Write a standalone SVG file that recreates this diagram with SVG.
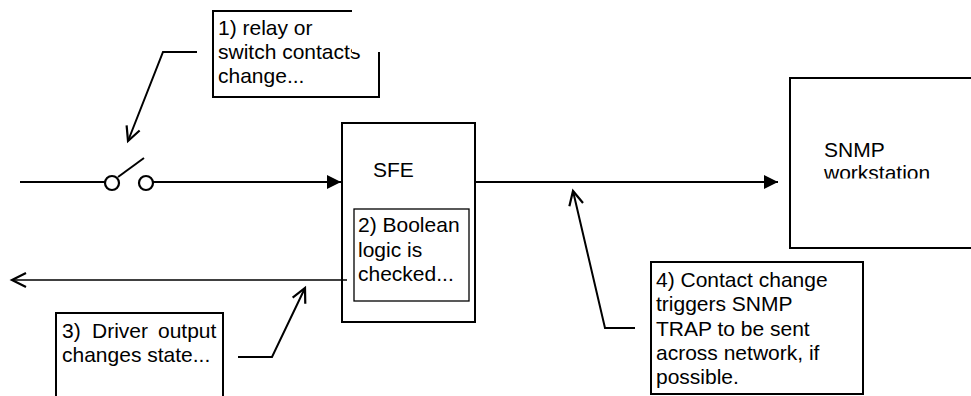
<svg xmlns="http://www.w3.org/2000/svg" width="971" height="396" viewBox="0 0 971 396">
<style>
  .box{fill:none;stroke:#000;stroke-width:2}
  .thin{fill:none;stroke:#000;stroke-width:1.3}
  .wire{fill:none;stroke:#000;stroke-width:2;stroke-linejoin:miter}
  .lbl{font-family:"Liberation Sans",Arial,sans-serif;font-size:21px;fill:#000}
</style>
<defs>
  <marker id="open" markerUnits="userSpaceOnUse" viewBox="-18 -10 20 20" markerWidth="20" markerHeight="20" refX="0" refY="0" orient="auto" overflow="visible">
    <path d="M-14,-7 L0,0 L-14,7" fill="none" stroke="#000" stroke-width="2.2" stroke-linejoin="miter"/>
  </marker>
  <marker id="solid" markerUnits="userSpaceOnUse" viewBox="-16 -9 18 18" markerWidth="18" markerHeight="18" refX="0" refY="0" orient="auto" overflow="visible">
    <path d="M-14,-7 L0,0 L-14,7 Z" fill="#000"/>
  </marker>
  <clipPath id="clip1"><polygon points="200,0 352,0 352,52 390,52 390,110 200,110"/></clipPath>
  <clipPath id="clipSnmp"><rect x="790" y="80" width="181" height="98.5"/></clipPath>
</defs>
<rect width="971" height="396" fill="#fff"/>

<g id="connectors">
  <line class="wire" x1="20" y1="182" x2="105" y2="182"/>
  <circle cx="112" cy="183" r="7" fill="#fff" stroke="#000" stroke-width="2.2"/>
  <circle cx="146" cy="183" r="7" fill="#fff" stroke="#000" stroke-width="2.2"/>
  <line class="wire" x1="118" y1="177" x2="144" y2="158"/>
  <line class="wire" x1="153" y1="182" x2="341" y2="182" marker-end="url(#solid)"/>
  <line class="wire" x1="475" y1="182" x2="778" y2="182" marker-end="url(#solid)"/>
  <line class="thin" x1="347" y1="280" x2="12" y2="280" stroke-width="1.5" marker-end="url(#open)"/>
  <polyline class="wire" points="197,52 163,52 128,141" marker-end="url(#open)"/>
  <polyline class="wire" points="238,357 272,357 305,288" marker-end="url(#open)"/>
  <polyline class="wire" points="635,328 605,328 573,191" marker-end="url(#open)"/>
</g>

<g id="note1">
  <path class="box" d="M352,11 H213 V97 H379 V52"/>
  <text class="lbl" clip-path="url(#clip1)">
    <tspan x="218" y="35">1) relay or</tspan>
    <tspan x="218" y="59">switch contacts</tspan>
    <tspan x="218" y="83">change...</tspan>
  </text>
</g>

<g id="sfe">
  <rect class="box" x="342" y="123" width="133" height="199"/>
  <text class="lbl" x="373" y="177">SFE</text>
</g>

<g id="note2">
  <rect class="thin" x="354" y="209" width="115" height="92"/>
  <text class="lbl">
    <tspan x="358" y="232">2) Boolean</tspan>
    <tspan x="358" y="257">logic is</tspan>
    <tspan x="358" y="281">checked...</tspan>
  </text>
</g>

<g id="note3">
  <rect class="box" x="56" y="313" width="167" height="100"/>
  <text class="lbl">
    <tspan x="62" y="338">3)</tspan><tspan x="92" y="338">Driver</tspan><tspan x="158" y="338">output</tspan>
    <tspan x="62" y="362">changes state...</tspan>
  </text>
</g>

<g id="snmp">
  <rect class="box" x="790" y="78" width="200" height="170"/>
  <text class="lbl" clip-path="url(#clipSnmp)">
    <tspan x="824" y="157">SNMP</tspan>
    <tspan x="824" y="180">workstation</tspan>
  </text>
</g>

<g id="note4">
  <rect class="box" x="651" y="262" width="212" height="132"/>
  <text class="lbl">
    <tspan x="656" y="287">4) Contact change</tspan>
    <tspan x="656" y="311">triggers SNMP</tspan>
    <tspan x="656" y="336">TRAP to be sent</tspan>
    <tspan x="656" y="360">across network, if</tspan>
    <tspan x="656" y="384">possible.</tspan>
  </text>
</g>
</svg>
